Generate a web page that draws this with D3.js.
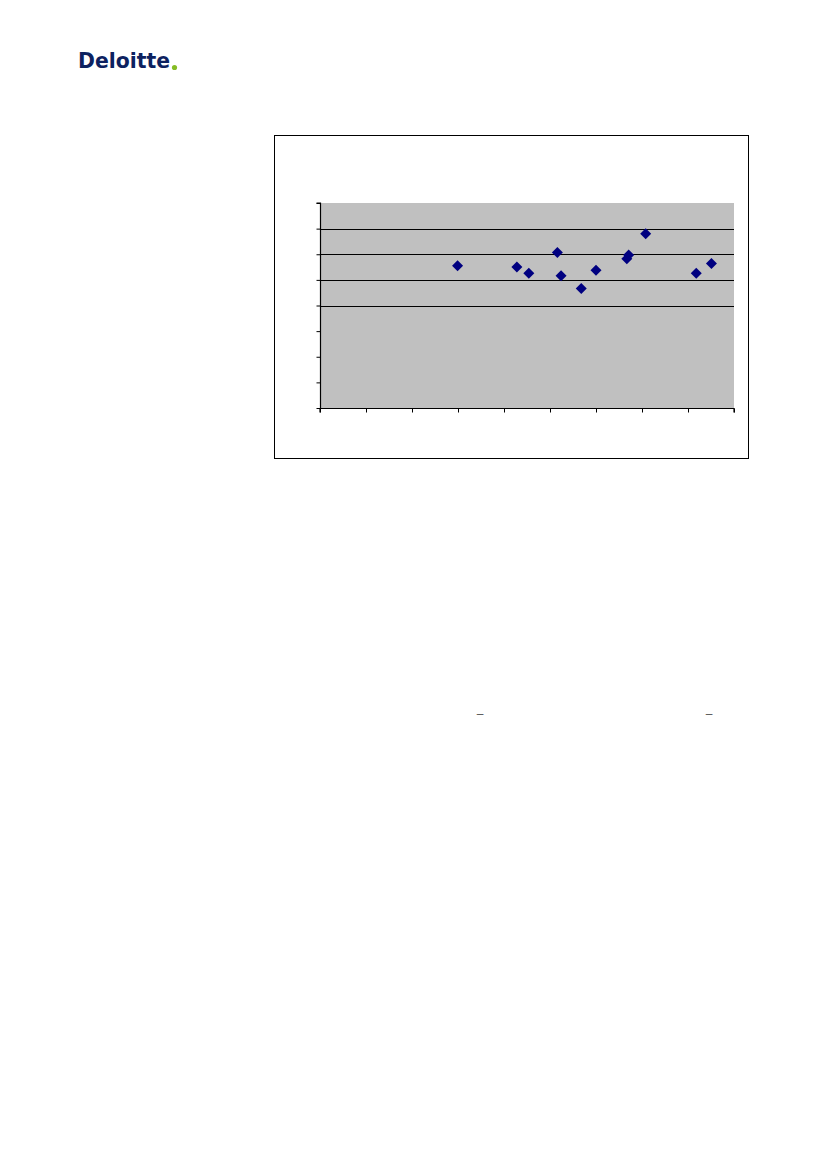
<!DOCTYPE html>
<html><head><meta charset="utf-8">
<script src="https://cdn.jsdelivr.net/npm/d3@7"></script>
<style>body{margin:0;background:#fff}svg{display:block}</style>
</head><body>
<script>
const xValues = [2.99, 4.28, 4.54, 5.16, 5.24, 5.68, 6.00, 6.67, 6.71, 7.08, 8.18, 8.51];
const yValues = [5.55, 5.50, 5.26, 6.07, 5.16, 4.66, 5.38, 5.82, 5.97, 6.80, 5.26, 5.64];
const xDomain = [0, 9];
const yDomain = [0, 8];
const gridValues = [4, 5, 6, 7];

const W = 827, H = 1169;
const svg = d3.select("body").append("svg").attr("width", W).attr("height", H);

// Logo
svg.append("text").attr("x", 78).attr("y", 68)
  .attr("font-family", "DejaVu Sans, sans-serif").attr("font-weight", "bold")
  .attr("font-size", 22).attr("fill", "#0d2260")
  .attr("textLength", 92).attr("lengthAdjust", "spacingAndGlyphs")
  .text("Deloitte");
svg.append("circle").attr("cx", 174.5).attr("cy", 67.5).attr("r", 2.6).attr("fill", "#86bc25");

// Chart frame
svg.append("rect").attr("x", 274.5).attr("y", 135.5).attr("width", 474).attr("height", 323)
  .attr("fill", "#fff").attr("stroke", "#000").attr("stroke-width", 1);

const L = 320, R = 734, T = 203, B = 408;
const x = d3.scaleLinear().domain(xDomain).range([L, R]);
const y = d3.scaleLinear().domain(yDomain).range([B, T]);

svg.append("rect").attr("x", L).attr("y", T).attr("width", R - L).attr("height", B - T).attr("fill", "#c0c0c0");

svg.append("g").selectAll("line").data(gridValues).join("line")
  .attr("x1", L).attr("x2", R).attr("y1", d => Math.round(y(d)) + 0.5).attr("y2", d => Math.round(y(d)) + 0.5)
  .attr("stroke", "#000").attr("stroke-width", 1);

const xAxis = svg.append("g").attr("transform", `translate(0,${B + 0.5})`)
  .call(d3.axisBottom(x).ticks(9).tickSize(4).tickFormat(""));
const yAxis = svg.append("g").attr("transform", `translate(${L + 0.5},0)`)
  .call(d3.axisLeft(y).ticks(8).tickSize(4).tickFormat(""));
[xAxis, yAxis].forEach(g => {
  g.select(".domain").attr("stroke", "#000").attr("stroke-width", 1.2);
  g.selectAll(".tick line").attr("stroke", "#000");
});
yAxis.select(".domain").attr("d", `M-4,${T}H0V${B}`);
xAxis.select(".domain").attr("d", `M${L},4V0H${R}V4`);

const pts = xValues.map((v, i) => ({x: v, y: yValues[i]}));
svg.append("g").selectAll("path").data(pts).join("path")
  .attr("transform", d => `translate(${x(d.x)},${y(d.y)})`)
  .attr("d", "M0,-5.5L5.5,0L0,5.5L-5.5,0Z")
  .attr("fill", "#000080");

// small dashes in text below
svg.append("g").selectAll("text").data([480, 709]).join("text")
  .attr("x", d => d).attr("y", 718).attr("text-anchor", "middle")
  .attr("font-family", "Liberation Sans, Arial, sans-serif").attr("font-size", 12)
  .attr("fill", "#555").text("–");
</script>
</body></html>
